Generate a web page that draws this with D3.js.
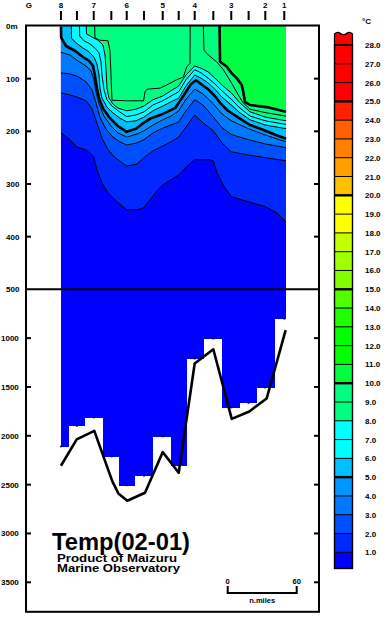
<!DOCTYPE html>
<html><head><meta charset="utf-8">
<script src="https://cdn.jsdelivr.net/npm/d3@7"></script>
<style>
body{margin:0;background:#fff}
svg{display:block}
text{font-family:"Liberation Sans",Arial,sans-serif;fill:#000}
</style>
</head><body>
<svg id="chart" width="384" height="620"></svg>
<script>
// ---------- DATA ----------
const stationNames = ["8","","7","","6","","5","","4","","3","","2","1"];
const stationDist  = [27.8,41.7,56.3,71.6,85.0,100.0,116.3,130.2,144.1,160.3,175.9,191.0,205.5,222.0]; // n.miles from G
const deepestObs   = [2112,1901,1816,2215,2511,2412,2010,2307,1213,1008,1714,1666,1509,804];          // m
const sectionStart = 27.8, sectionEnd = 223.5;                                                         // n.miles

const bottomDist  = [27.8,41.5,56.8,72.4,77.7,85.5,100.9,116.3,130.2,144.1,160.3,176.3,191.6,206.7,223.2];
const bottomDepth = [2307,2037,1949,2464,2590,2665,2583,2167,2379,1260,1114,1827,1751,1618,919];

// isotherm depths [n.miles, m]; depth 0 = isotherm outcrops at surface
const iso1 = [[27.8,203],[35.7,216],[41.7,230],[49.6,235],[56.3,248],[59.1,273],[63.5,298],[68.7,317],[75.7,332],[85,349],[94.8,349],[100,345],[105.2,330],[112.2,311],[116.3,302],[123.5,292],[130.2,283],[135.7,270],[144.1,254],[157.4,254],[160.3,256],[163.5,279],[169.6,305],[175.9,324],[191,334],[205.5,343],[215.7,355],[223.5,372]];
const iso2 = [[27.8,127],[35.7,131],[41.7,135],[49.6,142],[54.8,157],[59.1,184],[63.5,213],[68.7,235],[74.8,250],[85,266],[93.9,262],[100,250],[107.8,237],[116.3,228],[123.5,220],[130.2,211],[136.5,192],[144.1,169],[151.3,184],[160.3,199],[167.8,222],[175.9,239],[191,245],[205.5,250],[223.5,256]];
const iso3 = [[27.8,89],[35.7,91],[41.7,95],[49.6,106],[54.8,121],[58.3,146],[61.7,173],[67,196],[73,211],[79.1,220],[85,226],[93.9,222],[100,216],[107.8,203],[116.3,194],[123.5,188],[130.2,182],[136.5,161],[144.1,140],[151.3,150],[160.3,173],[167.8,193],[175.9,206],[191,216],[205.5,224],[223.5,231]];
const iso4 = [[27.8,50],[35.7,55],[41.7,65],[49.6,76],[53.9,85],[56.5,102],[58.3,125],[60.9,148],[65.2,171],[71.3,190],[77.4,203],[85,211],[93.9,205],[100,199],[107.8,188],[116.3,178],[123.5,171],[130.2,161],[136.5,139],[144.1,120],[151.3,129],[160.3,148],[167.8,167],[175.9,180],[191,195],[205.5,207],[223.5,220]];
const iso5 = [[27.8,1],[28,22],[32.2,38],[40,47],[47,59],[52.2,66],[55.7,76],[57.4,95],[59.1,118],[60.9,137],[64.3,156],[69.6,173],[77.4,190],[85,201],[93,195],[98.3,186],[106.1,175],[116.3,167],[127,156],[134.8,131],[140.9,110],[145.2,103],[149.6,110],[155.7,120],[161.7,133],[167,148],[173,161],[183.5,176],[192.2,188],[203.5,197],[214.8,207],[223.5,214]];
const iso6 = [[27.8,0],[36.8,0],[37,23],[40.9,32],[47,42],[52.2,49],[56.5,59],[59.1,72],[60.9,93],[61.7,118],[63.5,137],[67.8,154],[73,165],[79.1,175],[85,182],[93,180],[100,173],[107.8,161],[116.3,152],[123.5,144],[130.2,137],[136.5,114],[144.1,93],[149.6,99],[155.7,108],[161.7,120],[167.8,135],[175.9,150],[183.5,165],[192.2,178],[205.5,188],[223.5,195]];
const iso7 = [[27.8,0],[43.9,0],[44.1,19],[47.8,28],[53,34],[57.4,42],[60.9,51],[62.6,68],[63.5,93],[65.2,121],[67.8,140],[72.2,152],[77.4,161],[85,172],[93,169],[100,163],[107.8,150],[116.3,142],[123.5,133],[130.2,125],[136.5,102],[144.1,83],[149.6,89],[155.7,99],[161.7,110],[167.8,123],[175.9,139],[183.5,156],[192.2,171],[205.5,180],[223.5,187]];
const iso8 = [[27.8,0],[49.8,0],[50,15],[54.8,21],[60,27],[64.3,36],[66.1,55],[67,83],[67.8,118],[69.6,137],[73,148],[77.4,156],[85,161],[93,158],[100,152],[107.8,140],[116.3,133],[123.5,123],[130.2,114],[136.5,93],[144.1,76],[149.6,80],[155.7,87],[161.7,99],[167.8,112],[175.9,127],[183.5,146],[192.2,163],[205.5,173],[223.5,180]];
const iso9 = [[27.8,0],[57.1,0],[57.4,23],[61.7,27],[68.7,28],[70.4,46],[71.3,93],[72.2,141],[85,142],[99.6,142],[100.9,125],[102.6,120],[113.9,118],[119.7,112],[128.4,102],[134.2,97],[137.1,78],[140,71],[140.2,0],[151.3,0],[151.6,1],[152.2,46],[155.9,55],[163.2,68],[169,83],[176.3,109],[182,131],[186.3,146],[192.2,158],[206.7,165],[223.5,171]];
const iso10 = [[27.8,0],[165.5,0],[165.7,1],[166.1,68],[171.9,77],[176.3,90],[180.6,99],[185,112],[186.3,125],[187.8,144],[192.2,150],[206.7,154],[223.5,163]];
const isotherms = [iso1,iso2,iso3,iso4,iso5,iso6,iso7,iso8,iso9,iso10];
const isoLevels = [1,2,3,4,5,6,7,8,9,10];

const depthTicks = [100,200,300,400,500,1000,1500,2000,2500,3000,3500];
const depthLabels = ["0m","100","200","300","400","500","1000","1500","2000","2500","3000","3500"];
const labelDepths = [0,100,200,300,400,500,1000,1500,2000,2500,3000,3500];
const tempLevels = d3.range(1,29);
// colour of the band whose lower bound is the index (0..28)
const bandColors = ["#0000ff","#0028ff","#0050ff","#0078ff","#0096ff","#00bfff","#00ffff","#00ffff",
  "#00ff80","#00ff80","#00ff40","#00ff00","#00ff00","#20ff00","#50ff00","#80ff00","#a0ff00","#c4ff00",
  "#ffff00","#ffff00","#ffc000","#ffa000","#ff8000","#ff6000","#ff2000","#ff0000","#ff0000","#ff0000","#ff0000"];

// ---------- SCALES ----------
const svg = d3.select("#chart");
const x = d3.scaleLinear().domain([-2.6, 252.2]).range([26, 319]);
const y = d3.scaleLinear().domain([0, 500, 3800]).range([26, 289.3, 611.6]);
const cb = d3.scaleLinear().domain([1, 28]).range([552.3, 45]);

const frameL = 26, frameR = 319, frameT = 25.5, frameB = 611.8;

// ---------- SECTION FILL ----------
const g = svg.append("g");
g.append("rect").attr("x", x(sectionStart)).attr("y", y(0))
  .attr("width", x(sectionEnd) - x(sectionStart)).attr("height", y(500) - y(0))
  .attr("fill", bandColors[0]);

const area = d3.area().x(d => x(d[0])).y0(y(0)).y1(d => y(d[1]));
isotherms.forEach((iso, k) => {
  g.append("path").attr("d", area(iso)).attr("fill", bandColors[isoLevels[k]]);
});

// deep part: one column per station down to its deepest observation
stationDist.forEach((s, i) => {
  const x0 = i === 0 ? sectionStart : (stationDist[i-1] + s) / 2;
  const x1 = i === stationDist.length - 1 ? sectionEnd : (s + stationDist[i+1]) / 2;
  g.append("rect").attr("x", x(x0)).attr("y", y(500) - 0.5)
    .attr("width", x(x1) - x(x0)).attr("height", y(deepestObs[i]) - y(500) + 0.5)
    .attr("fill", bandColors[0]).attr("shape-rendering", "crispEdges");
});

// isotherm lines (skip parts lying on the sea surface)
function segPath(pts) {
  let d = "", pen = false;
  for (let i = 0; i < pts.length - 1; i++) {
    const a = pts[i], b = pts[i+1];
    if (a[1] > 0 || b[1] > 0) {
      if (!pen) { d += `M${x(a[0])},${y(a[1])}`; pen = true; }
      d += `L${x(b[0])},${y(b[1])}`;
    } else pen = false;
  }
  return d;
}
isotherms.forEach((iso, k) => {
  const thick = isoLevels[k] % 5 === 0;
  g.append("path").attr("d", segPath(iso)).attr("fill", "none")
    .attr("stroke", "#000").attr("stroke-width", thick ? 2.6 : 1)
    .attr("stroke-linejoin", "round");
});

// deepest observation marks
stationDist.forEach((s, i) => {
  g.append("rect").attr("x", x(s) - 1).attr("y", y(deepestObs[i]) - 1)
    .attr("width", 2).attr("height", 1.5).attr("fill", "#000");
});

// sea bottom
g.append("path")
  .attr("d", d3.line().x((d, i) => x(bottomDist[i])).y((d, i) => y(bottomDepth[i]))(bottomDist))
  .attr("fill", "none").attr("stroke", "#000").attr("stroke-width", 2.6).attr("stroke-linejoin", "round");

// 500 m scale break line
svg.append("line").attr("x1", frameL).attr("x2", frameR).attr("y1", y(500)).attr("y2", y(500))
  .attr("stroke", "#000").attr("stroke-width", 2);

// frame
svg.append("rect").attr("x", frameL).attr("y", frameT).attr("width", frameR - frameL)
  .attr("height", frameB - frameT).attr("fill", "none").attr("stroke", "#000").attr("stroke-width", 2);

// depth ticks (inside, both sides)
depthTicks.forEach(t => {
  if (t === 500) return;
  svg.append("line").attr("x1", frameL).attr("x2", frameL + 5).attr("y1", y(t)).attr("y2", y(t))
    .attr("stroke", "#000").attr("stroke-width", 2);
  svg.append("line").attr("x1", frameR - 5).attr("x2", frameR).attr("y1", y(t)).attr("y2", y(t))
    .attr("stroke", "#000").attr("stroke-width", 2);
});
labelDepths.forEach((t, i) => {
  svg.append("text").attr("x", t >= 1000 ? 1 : 6).attr("y", y(t) + 3)
    .attr("font-size", 8).attr("font-weight", "bold").text(depthLabels[i]);
});

// top axis: stations
stationDist.forEach((s, i) => {
  svg.append("line").attr("x1", x(s)).attr("x2", x(s)).attr("y1", 11).attr("y2", 20)
    .attr("stroke", "#000").attr("stroke-width", 2);
  if (stationNames[i]) svg.append("text").attr("x", x(s)).attr("y", 7.5)
    .attr("text-anchor", "middle").attr("font-size", 8).attr("font-weight", "bold").text(stationNames[i]);
});
svg.append("text").attr("x", x(0)).attr("y", 7.5).attr("text-anchor", "middle")
  .attr("font-size", 8).attr("font-weight", "bold").text("G");

// ---------- COLOUR BAR ----------
const cbL = 334.5, cbR = 352.5, cbBottom = 568.5;
const cbg = svg.append("g");
for (let t = 0; t < 28; t++) {
  const yTop = cb(t + 1), yBot = t === 0 ? cbBottom : cb(t);
  cbg.append("rect").attr("x", cbL).attr("y", yTop).attr("width", cbR - cbL).attr("height", yBot - yTop)
    .attr("fill", bandColors[t]).attr("shape-rendering", "crispEdges");
}
// top open-ended band (28+) with wavy edge
const topY = cb(28);
const wavy = `M${cbL},${topY} L${cbL},${topY-11} Q${cbL+3},${topY-14} ${cbL+6},${topY-11.5} Q${cbL+9},${topY-9} ${cbL+12},${topY-11.5} Q${cbL+15},${topY-14} ${cbR},${topY-11} L${cbR},${topY} Z`;
cbg.append("path").attr("d", wavy).attr("fill", bandColors[28]).attr("stroke", "#000").attr("stroke-width", 1.2);
tempLevels.forEach(t => {
  const thick = t % 5 === 0;
  cbg.append("line").attr("x1", cbL).attr("x2", cbR).attr("y1", cb(t)).attr("y2", cb(t))
    .attr("stroke", "#000").attr("stroke-width", thick ? 2.4 : 1);
  cbg.append("text").attr("x", 365).attr("y", cb(t) + 3).attr("font-size", 8)
    .attr("font-weight", "bold").text(t.toFixed(1));
});
cbg.append("rect").attr("x", cbL).attr("y", topY).attr("width", cbR - cbL).attr("height", cbBottom - topY)
  .attr("fill", "none").attr("stroke", "#000").attr("stroke-width", 1.4);
svg.append("text").attr("x", 362).attr("y", 24).attr("font-size", 8).attr("font-weight", "bold").text("°C");

// ---------- TITLES ----------
svg.append("text").attr("x", 52).attr("y", 550).attr("font-size", 23).attr("font-weight", "bold")
  .attr("textLength", 138).attr("lengthAdjust", "spacingAndGlyphs").text("Temp(02-01)");
svg.append("text").attr("x", 57).attr("y", 562).attr("font-size", 10.5).attr("font-weight", "bold")
  .attr("textLength", 120).attr("lengthAdjust", "spacingAndGlyphs").text("Product of Maizuru");
svg.append("text").attr("x", 57).attr("y", 571.5).attr("font-size", 10.5).attr("font-weight", "bold")
  .attr("textLength", 123).attr("lengthAdjust", "spacingAndGlyphs").text("Marine Observatory");

// scale bar 0-60 n.miles
const sb0 = 0, sb1 = 60, sbX = 227.7, sbPx = x(sb1) - x(sb0);
svg.append("path").attr("d", `M${sbX},586 V593 H${sbX + sbPx} V586`).attr("fill", "none")
  .attr("stroke", "#000").attr("stroke-width", 2);
svg.append("text").attr("x", sbX).attr("y", 584).attr("text-anchor", "middle").attr("font-size", 7.5)
  .attr("font-weight", "bold").text(sb0);
svg.append("text").attr("x", sbX + sbPx).attr("y", 584).attr("text-anchor", "middle").attr("font-size", 7.5)
  .attr("font-weight", "bold").text(sb1);
svg.append("text").attr("x", sbX + sbPx / 2).attr("y", 603).attr("text-anchor", "middle").attr("font-size", 7.5)
  .attr("font-weight", "bold").text("n.miles");
</script>
</body></html>
